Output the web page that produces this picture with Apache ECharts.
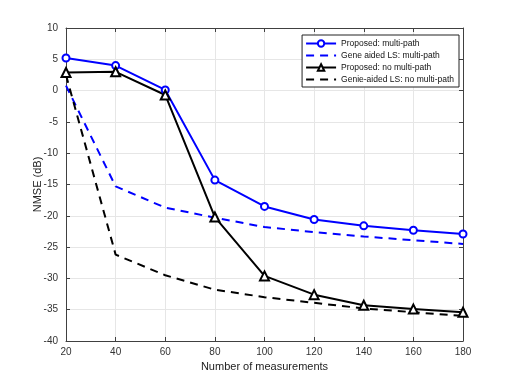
<!DOCTYPE html>
<html>
<head>
<meta charset="utf-8">
<script src="https://cdn.jsdelivr.net/npm/echarts@6/dist/echarts.min.js"></script>
<style>
html, body { margin: 0; padding: 0; background: #fff; }
#main { width: 512px; height: 384px; }
</style>
</head>
<body>
<div id="main"></div>
<script>
// 测量次数
var measurements = [20, 40, 60, 80, 100, 120, 140, 160, 180];
// NMSE (dB)
var proposedMulti = [5.2, 4.0, 0.1, -14.3, -18.5, -20.6, -21.6, -22.3, -22.9];
var genieMulti = [0.8, -15.3, -18.7, -20.3, -21.8, -22.6, -23.3, -23.9, -24.5];
var proposedNoMulti = [2.9, 3.0, -0.7, -20.2, -29.6, -32.6, -34.3, -34.9, -35.4];
var genieNoMulti = [2.5, -26.2, -29.5, -31.8, -33.0, -33.9, -34.8, -35.4, -36.0];
var seriesNames = ['Proposed: multi-path', 'Gene aided LS: multi-path', 'Proposed: no multi-path', 'Genie-aided LS: no multi-path'];

function pairs(ys) {
    return measurements.map(function (x, i) { return [x, ys[i]]; });
}

var axisColor = '#404040';
var font = 'Liberation Sans, Arial, sans-serif';

function xAx(pos, show) {
    return {
        type: 'value', position: pos, min: 20, max: 180, interval: 20,
        axisLine: { show: true, onZero: false, lineStyle: { color: axisColor, width: 1 } },
        axisTick: { show: true, inside: true, length: 4, lineStyle: { color: axisColor } },
        axisLabel: { show: show, color: '#333', fontSize: 10, fontFamily: font, margin: 6 },
        splitLine: { show: show, lineStyle: { color: '#e6e6e6', width: 1 } },
        name: show ? 'Number of measurements' : '',
        nameLocation: 'middle', nameGap: 20, nameMoveOverlap: false,
        nameTextStyle: { color: '#222', fontSize: 11, fontFamily: font }
    };
}
function yAx(pos, show) {
    return {
        type: 'value', position: pos, min: -40, max: 10, interval: 5,
        axisLine: { show: true, onZero: false, lineStyle: { color: axisColor, width: 1 } },
        axisTick: { show: true, inside: true, length: 4, lineStyle: { color: axisColor } },
        axisLabel: { show: show, color: '#333', fontSize: 10, fontFamily: font, margin: 8 },
        splitLine: { show: show, lineStyle: { color: '#e6e6e6', width: 1 } },
        name: show ? 'NMSE (dB)' : '',
        nameLocation: 'middle', nameGap: 23, nameMoveOverlap: false,
        nameTextStyle: { color: '#222', fontSize: 11, fontFamily: font }
    };
}

var chart = echarts.init(document.getElementById('main'));
chart.setOption({
    animation: false,
    grid: { left: 66, right: 49, top: 28, bottom: 43 },
    xAxis: [xAx('bottom', true), xAx('top', false)],
    yAxis: [yAx('left', true), yAx('right', false)],
    legend: {
        orient: 'vertical', right: 53, top: 35,
        itemWidth: 30, itemHeight: 8, itemGap: 3,
        padding: [4, 5, 3, 3],
        borderColor: '#222', borderWidth: 1, backgroundColor: '#fff',
        textStyle: { fontSize: 8.5, fontFamily: font, color: '#111' },
        data: [
            { name: seriesNames[0] },
            { name: seriesNames[1], itemStyle: { opacity: 0 } },
            { name: seriesNames[2] },
            { name: seriesNames[3], itemStyle: { opacity: 0 } }
        ]
    },
    series: [
        {
            name: seriesNames[0], type: 'line', data: pairs(proposedMulti),
            symbol: 'circle', symbolSize: 7,
            lineStyle: { color: '#0000ff', width: 2 },
            itemStyle: { color: '#fff', borderColor: '#0000ff', borderWidth: 2 }
        },
        {
            name: seriesNames[1], type: 'line', data: pairs(genieMulti),
            symbol: 'none',
            lineStyle: { color: '#0000ff', width: 2, type: [8, 6] },
            itemStyle: { color: '#0000ff' }
        },
        {
            name: seriesNames[2], type: 'line', data: pairs(proposedNoMulti),
            symbol: 'triangle', symbolSize: 9,
            lineStyle: { color: '#000', width: 2 },
            itemStyle: { color: '#fff', borderColor: '#000', borderWidth: 2 }
        },
        {
            name: seriesNames[3], type: 'line', data: pairs(genieNoMulti),
            symbol: 'none',
            lineStyle: { color: '#000', width: 2, type: [8, 6] },
            itemStyle: { color: '#000' }
        }
    ]
});
</script>
</body>
</html>
